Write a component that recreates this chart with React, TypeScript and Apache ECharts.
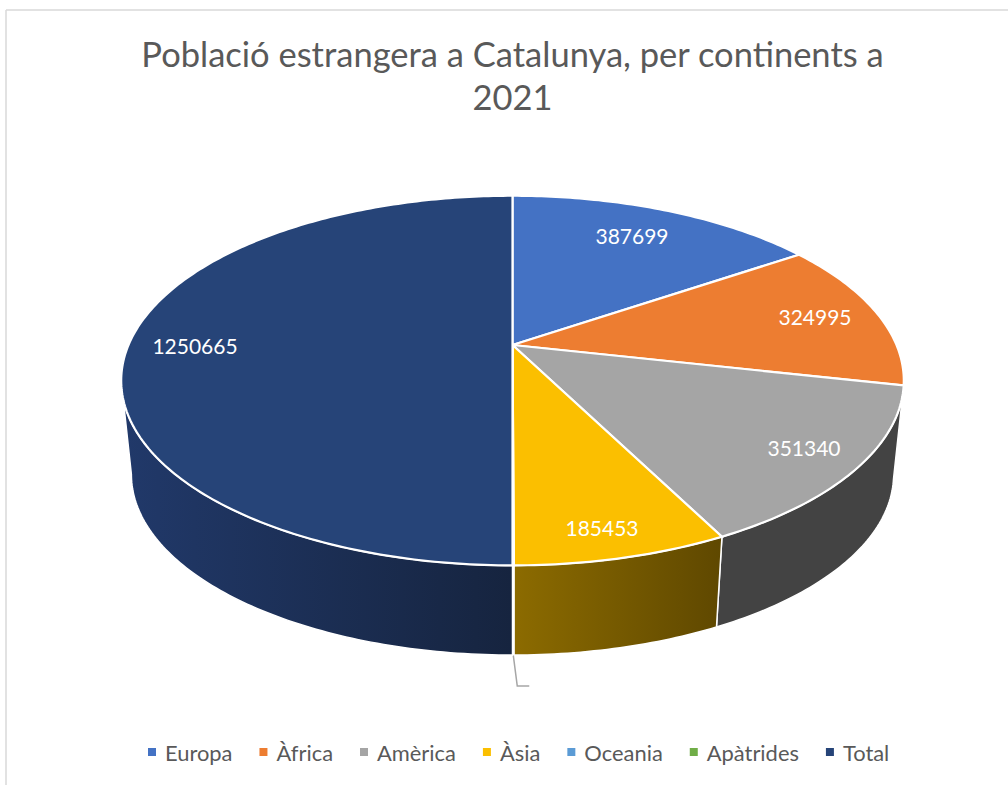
import React, { useEffect, useRef } from "react";
import * as echarts from "echarts";

const titleText = "Població estrangera a Catalunya, per continents a\n2021";
const categories = ["Europa", "Àfrica", "Amèrica", "Àsia", "Oceania", "Apàtrides", "Total"];
const values = [387699, 324995, 351340, 185453, 1040, 138, 1250665];

const topColors = ["#4472C4", "#ED7D31", "#A5A5A5", "#FBBF00", "#5B9BD5", "#70AD47", "#264478"];
const wallStops = [
  ["#294477", "#294477"],
  ["#8e4b1d", "#8e4b1d"],
  ["#434343", "#434343"],
  ["#8c6b00", "#5f4800"],
  ["#375d80", "#375d80"],
  ["#43682a", "#43682a"],
  ["#21396a", "#16243f"],
];
const labelCentres: ([number, number] | null)[] = [
  [632, 235], [815, 316], [804, 447], [602, 527], null, null, [195, 345],
];

const CX = 512.5;
const P = 0.1924;
const TOP = { a: 384, b: 178, cy: 345 };
const BOTTOM = { a: 374, b: 174, cy: 439.6 };
const SIDE_R = Math.acos(-P);
const SIDE_L = 2 * Math.PI - SIDE_R;
const grandTotal = values.reduce((s, v) => s + v, 0);

function rim(t: number, d: { a: number; b: number; cy: number }): number[] {
  const u = Math.sin(t);
  const v = Math.cos(t);
  const w = 1 + P * v;
  return [CX + (d.a * u) / w, d.cy - (d.b * v) / w];
}

function arcPoints(t1: number, t2: number, d: { a: number; b: number; cy: number }): number[][] {
  const n = Math.max(2, Math.ceil(Math.abs(t2 - t1) / 0.015));
  const pts: number[][] = [];
  for (let i = 0; i <= n; i++) pts.push(rim(t1 + ((t2 - t1) * i) / n, d));
  return pts;
}

function sliceAngles(index: number): [number, number] {
  let before = 0;
  for (let i = 0; i < index; i++) before += values[i];
  return [
    (before / grandTotal) * 2 * Math.PI,
    ((before + values[index]) / grandTotal) * 2 * Math.PI,
  ];
}

function makeRenderItem(index: number) {
  return (_params: any, api: any) => {
    const [t1, t2] = sliceAngles(index);
    const children: any[] = [];
    const wallStart = Math.max(t1, SIDE_R);
    const wallEnd = Math.min(t2, SIDE_L);
    if (wallEnd > wallStart) {
      children.push({
        type: "polygon",
        shape: {
          points: [...arcPoints(wallStart, wallEnd, TOP), ...arcPoints(wallEnd, wallStart, BOTTOM)],
        },
        style: {
          fill: {
            type: "linear",
            x: 0,
            y: 0,
            x2: 1,
            y2: 0,
            colorStops: [
              { offset: 0, color: wallStops[index][0] },
              { offset: 1, color: wallStops[index][1] },
            ],
          },
          stroke: "#ffffff",
          lineWidth: 1.5,
        },
      });
    }
    children.push({
      type: "polygon",
      shape: { points: [[CX, TOP.cy], ...arcPoints(t1, t2, TOP)] },
      style: { fill: topColors[index], stroke: "#ffffff", lineWidth: 2.2 },
    });
    if (index === 4) {
      const anchor = rim((t1 + t2) / 2, BOTTOM);
      children.push({
        type: "polyline",
        shape: {
          points: [anchor, [anchor[0] + 4, anchor[1] + 31], [anchor[0] + 16, anchor[1] + 31]],
        },
        style: { fill: "none", stroke: "#a6a6a6", lineWidth: 1.5 },
      });
    }
    const centre = labelCentres[index];
    if (centre) {
      children.push({
        type: "text",
        x: centre[0],
        y: centre[1],
        style: {
          text: String(api.value(0)),
          fill: "#ffffff",
          font: "21px Lato",
          align: "center",
          verticalAlign: "middle",
        },
      });
    }
    return { type: "group", children };
  };
}

export default function App() {
  const ref = useRef<HTMLDivElement>(null);
  useEffect(() => {
    if (!ref.current) return;
    const chart = echarts.init(ref.current, undefined, { renderer: "svg" });
    chart.setOption({
      animation: false,
      backgroundColor: "#ffffff",
      title: {
        text: titleText,
        left: 507.5,
        top: 27,
        textAlign: "center",
        textStyle: {
          fontFamily: "Lato",
          fontSize: 34.5,
          fontWeight: "normal",
          color: "#595959",
          lineHeight: 43,
        },
      },
      legend: {
        left: 143,
        top: 736,
        icon: "rect",
        itemWidth: 8,
        itemHeight: 8,
        itemGap: 27,
        selectedMode: false,
        data: categories,
        textStyle: {
          fontFamily: "Lato",
          fontSize: 21.9,
          color: "#595959",
          padding: [0, 0, 0, 4],
        },
      },
      graphic: [
        {
          type: "line",
          shape: { x1: 6, y1: 10, x2: 1008, y2: 10 },
          style: { stroke: "#d9d9d9", lineWidth: 1.5 },
          silent: true,
        },
        {
          type: "line",
          shape: { x1: 6, y1: 10, x2: 6, y2: 785 },
          style: { stroke: "#d9d9d9", lineWidth: 1.5 },
          silent: true,
        },
      ],
      series: categories.map((name, i) => ({
        type: "custom",
        name,
        coordinateSystem: "none",
        silent: true,
        itemStyle: { color: topColors[i] },
        data: [values[i]],
        renderItem: makeRenderItem(i),
      })),
    });
    return () => chart.dispose();
  }, []);
  return (
    <div
      ref={ref}
      style={{ position: "absolute", left: 0, top: 0, width: 1008, height: 785 }}
    />
  );
}
